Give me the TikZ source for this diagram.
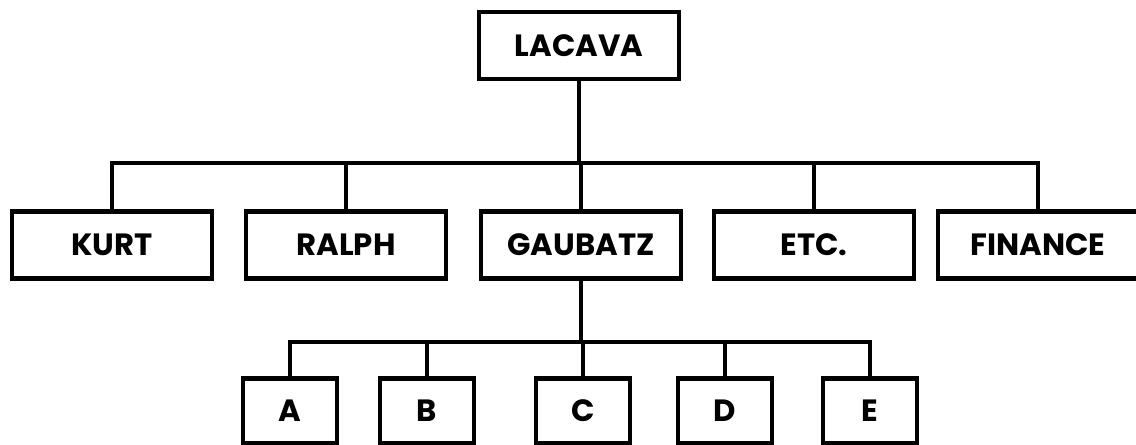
\documentclass[tikz,border=0pt]{standalone}
\usepackage{fontspec}
\setmainfont{Poppins}
\usepackage{tikz}

\begin{document}
\begin{tikzpicture}[
  box/.style={draw, line width=2.6pt, minimum width=4cm, minimum height=1.34cm,
              inner sep=0pt, font=\fontsize{17.5}{20}\selectfont\bfseries},
  leaf/.style={box, minimum width=1.88cm, minimum height=1.3cm},
  link/.style={line width=1.8pt}
]
  \useasboundingbox (0,0) rectangle (22.72,8.9);

  \node[box] (lacava) at (11.58,7.99) {LACAVA};

  % first level
  \node[box] (kurt)    at (2.24,4.0)  {KURT};
  \node[box] (ralph)   at (6.92,4.0)  {RALPH};
  \node[box] (gaubatz) at (11.62,4.0) {GAUBATZ};
  \node[box] (etc)     at (16.28,4.0) {ETC.};
  \node[box] (finance) at (20.76,4.0) {FINANCE};

  % second level under GAUBATZ
  \node[leaf] (a) at (5.8,0.68)  {A};
  \node[leaf] (b) at (8.54,0.68) {B};
  \node[leaf] (c) at (11.66,0.68) {C};
  \node[leaf] (d) at (14.5,0.68) {D};
  \node[leaf] (e) at (17.4,0.68) {E};

  \coordinate (bus1) at (0,5.64);
  \coordinate (bus2) at (0,2.06);

  \draw[link] (lacava.south) -- (lacava.south |- bus1);
  \draw[link] (kurt.north) -- (kurt.north |- bus1)
    -- (finance.north |- bus1) -- (finance.north);
  \foreach \n in {ralph,gaubatz,etc}
    \draw[link] (\n.north) -- (\n.north |- bus1);

  \draw[link] (gaubatz.south) -- (gaubatz.south |- bus2);
  \draw[link] (a.north) -- (a.north |- bus2) -- (e.north |- bus2) -- (e.north);
  \foreach \n in {b,c,d}
    \draw[link] (\n.north) -- (\n.north |- bus2);
\end{tikzpicture}
\end{document}
